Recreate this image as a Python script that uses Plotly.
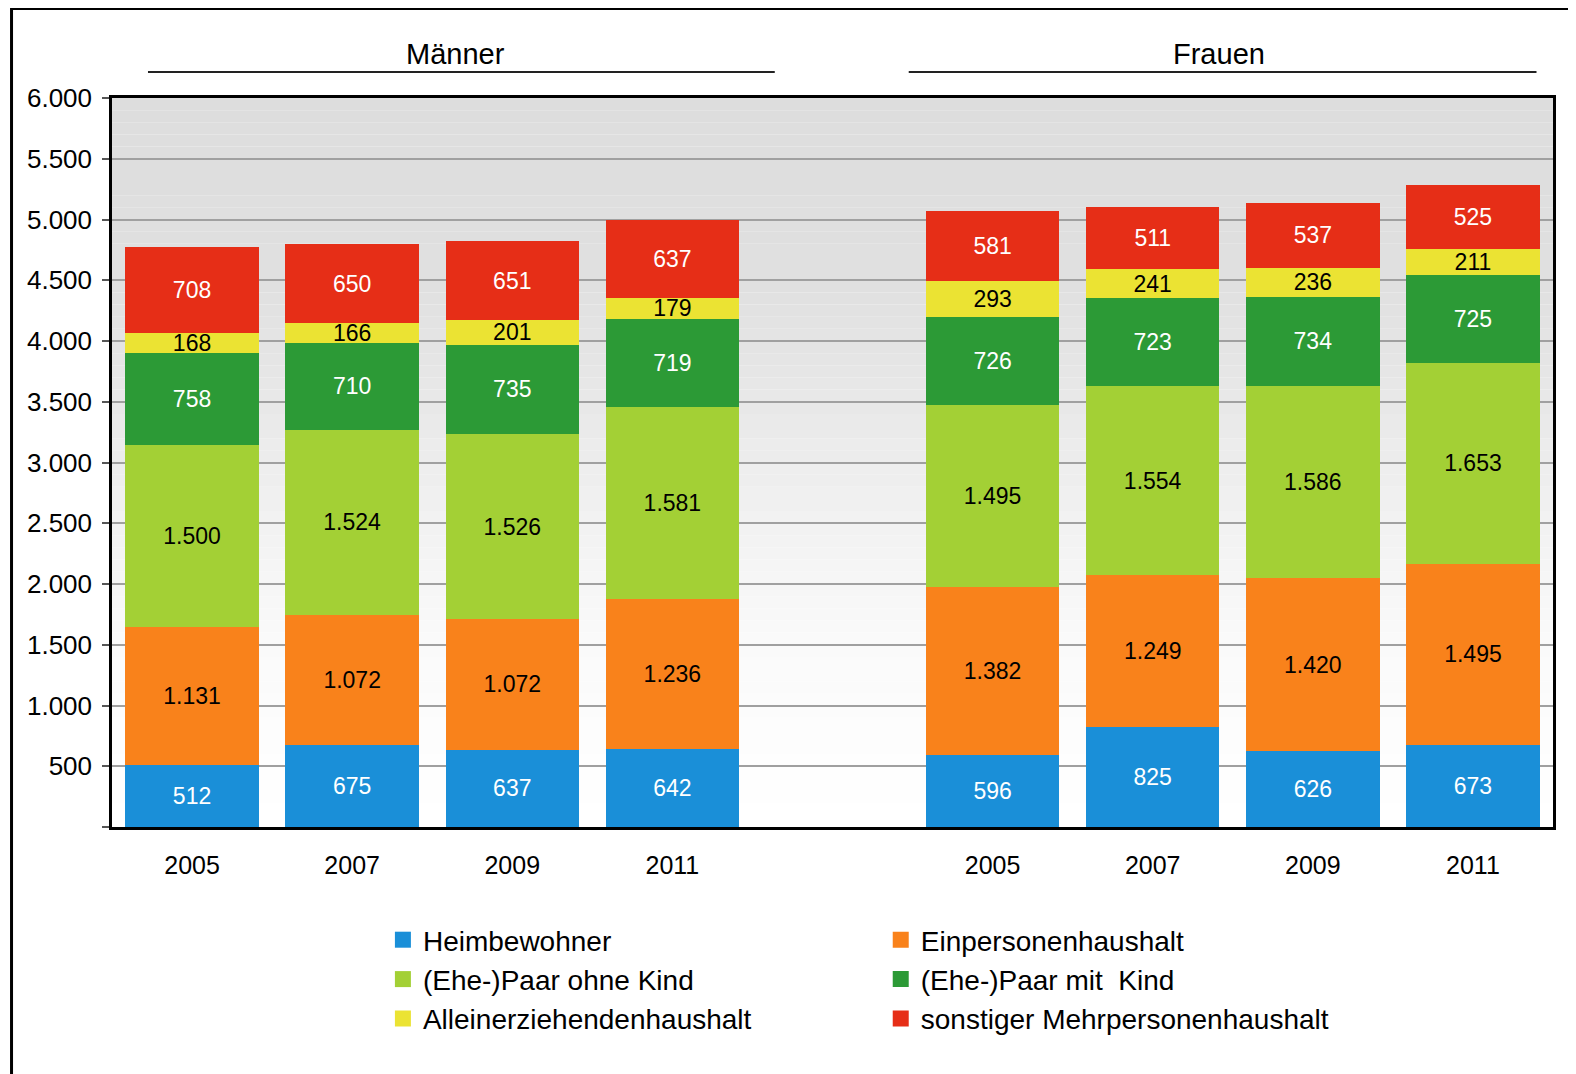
import plotly.graph_objects as go

years = ["2005", "2007", "2009", "2011"]
groups = ["Männer", "Frauen"]
series_names = ["Heimbewohner", "Einpersonenhaushalt", "(Ehe-)Paar ohne Kind",
                "(Ehe-)Paar mit  Kind", "Alleinerziehendenhaushalt",
                "sonstiger Mehrpersonenhaushalt"]

# values: Männer 2005..2011, then Frauen 2005..2011
heimbewohner = [512, 675, 637, 642, 596, 825, 626, 673]
einpersonen = [1131, 1072, 1072, 1236, 1382, 1249, 1420, 1495]
paar_ohne_kind = [1500, 1524, 1526, 1581, 1495, 1554, 1586, 1653]
paar_mit_kind = [758, 710, 735, 719, 726, 723, 734, 725]
alleinerziehend = [168, 166, 201, 179, 293, 241, 236, 211]
sonstige = [708, 650, 651, 637, 581, 511, 537, 525]

y_ticks = [0, 500, 1000, 1500, 2000, 2500, 3000, 3500, 4000, 4500, 5000, 5500, 6000]

series_values = [heimbewohner, einpersonen, paar_ohne_kind, paar_mit_kind,
                 alleinerziehend, sonstige]
colors = ["#1a8fd8", "#f9821b", "#a3d035", "#2c9a36", "#ebe333", "#e62e17"]
text_colors = ["white", "black", "black", "white", "black", "white"]

# x positions: 4 Männer slots, an empty slot, 4 Frauen slots
x_pos = [0, 1, 2, 3, 5, 6, 7, 8]
x_text = years + years


def de(v):
    return f"{v:,}".replace(",", ".")


def de_tick(v):
    return "" if v == 0 else de(v)


FONT = "Liberation Sans, Arial, sans-serif"

# screen geometry of the plot area (page has an 8px body margin)
PL, PR, PT, PB = 112, 1553.5, 98, 827
PW, PH = PR - PL, PB - PT


def px_x(px):
    return (px - PL) / PW


def px_y(py):
    return (PB - py) / PH


fig = go.Figure()
for name, vals, col, tcol in zip(series_names, series_values, colors, text_colors):
    fig.add_trace(go.Bar(
        x=x_pos, y=vals, name=name, marker=dict(color=col, line=dict(width=0)),
        text=[de(v) for v in vals], textposition="inside", insidetextanchor="middle",
        textangle=0, textfont=dict(color=tcol, size=23, family=FONT),
        showlegend=False, hoverinfo="skip", cliponaxis=False,
    ))

# legend entries (two columns)
for i, (name, col) in enumerate(zip(series_names, colors)):
    fig.add_trace(go.Scatter(
        x=[None], y=[None], mode="markers", name=name,
        marker=dict(symbol="square", size=16, color=col, line=dict(width=0)),
        legend="legend" if i % 2 == 0 else "legend2", legendgroup=f"g{i}",
    ))

# background gradient bands (below gridlines)
grad = [(6000, 221), (4500, 224), (3500, 232), (2500, 242), (1500, 250), (500, 254), (0, 255)]
shapes = []
nb = 60
for k in range(nb):
    y0 = 6000 * k / nb
    y1 = 6000 * (k + 1) / nb
    ym = (y0 + y1) / 2
    c = 255
    for (ya, ca), (yb, cb) in zip(grad[:-1], grad[1:]):
        if yb <= ym <= ya:
            c = cb + (ca - cb) * (ym - yb) / (ya - yb)
            break
    c = int(round(c))
    shapes.append(dict(type="rect", xref="paper", yref="y", x0=0, x1=1, y0=y0, y1=y1,
                       fillcolor=f"rgb({c},{c},{c})", line=dict(width=0), layer="below"))

# outer frame
shapes.append(dict(type="rect", xref="paper", yref="paper",
                   x0=px_x(11.5), x1=px_x(1600), y0=px_y(1100), y1=px_y(8.5),
                   line=dict(color="black", width=3), fillcolor="rgba(0,0,0,0)", layer="above"))
# group header lines
for (px0, px1) in [(148, 775), (909, 1537)]:
    shapes.append(dict(type="line", xref="paper", yref="paper",
                       x0=px_x(px0), x1=px_x(px1), y0=px_y(72), y1=px_y(72),
                       line=dict(color="#222222", width=2)))

annotations = []
for g, px in zip(groups, [456, 1219]):
    annotations.append(dict(text=g, xref="paper", yref="paper",
                            x=px_x(px), y=px_y(54),
                            xanchor="center", yanchor="middle", showarrow=False,
                            font=dict(size=29, color="black", family=FONT)))

fig.update_layout(
    width=1576, height=1074,
    margin=dict(l=PL - 8, r=1576 - (PR - 8), t=PT - 8, b=1074 - (PB - 8)),
    paper_bgcolor="white", plot_bgcolor="rgba(0,0,0,0)",
    barmode="stack", bargap=0.166,
    font=dict(family=FONT, color="black"),
    uniformtext=dict(minsize=23, mode="show"),
    shapes=shapes, annotations=annotations,
    xaxis=dict(range=[-0.5, 8.5], tickvals=x_pos, ticktext=x_text, showgrid=False,
               zeroline=False, showline=True, linecolor="black", linewidth=2.5, mirror=True,
               ticks="", tickfont=dict(size=25, family=FONT, color="black"),
               ticklabelstandoff=14),
    yaxis=dict(range=[0, 6000], tickvals=y_ticks, ticktext=[de_tick(v) for v in y_ticks],
               showgrid=True, gridcolor="#a0a0a0", gridwidth=2, zeroline=False,
               showline=True, linecolor="black", linewidth=2.5, mirror=True,
               ticks="outside", ticklen=7, tickwidth=2, tickcolor="#555555",
               tickfont=dict(size=26, family=FONT, color="black"), ticklabelstandoff=5),
    legend=dict(x=px_x(383), y=px_y(915), xanchor="left", yanchor="top",
                orientation="v", bgcolor="rgba(0,0,0,0)", tracegroupgap=0,
                font=dict(size=28, family=FONT, color="black"), itemwidth=30),
    legend2=dict(x=px_x(881), y=px_y(915), xanchor="left", yanchor="top",
                 orientation="v", bgcolor="rgba(0,0,0,0)", tracegroupgap=0,
                 font=dict(size=28, family=FONT, color="black"), itemwidth=30),
)

fig.write_html("out.html")
